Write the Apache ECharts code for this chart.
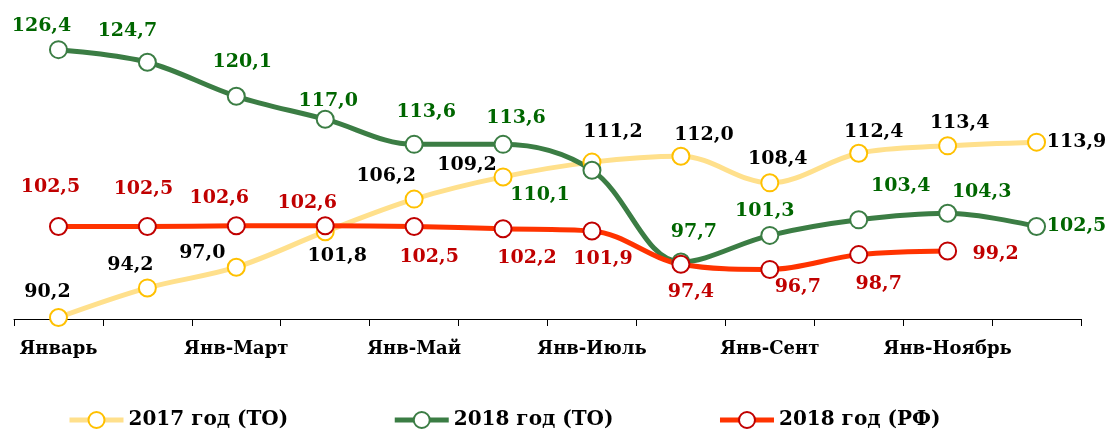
<!DOCTYPE html>
<html>
<head>
<meta charset="utf-8">
<script src="https://cdn.jsdelivr.net/npm/echarts@6/dist/echarts.min.js"></script>
<style>
  html, body { margin: 0; padding: 0; background: #fff; }
  #chart { width: 1113px; height: 432px; }
</style>
</head>
<body>
<div id="chart"></div>
<script>
// категории по оси X
const months = ['Январь', 'Янв-Февр', 'Янв-Март', 'Янв-Апр', 'Янв-Май', 'Янв-Июнь',
  'Янв-Июль', 'Янв-Авг', 'Янв-Сент', 'Янв-Окт', 'Янв-Ноябрь', 'Янв-Декабрь']
// значения рядов
const to2017 = [90.2, 94.2, 97.0, 101.8, 106.2, 109.2, 111.2, 112.0, 108.4, 112.4, 113.4, 113.9]
const to2018 = [126.4, 124.7, 120.1, 117.0, 113.6, 113.6, 110.1, 97.7, 101.3, 103.4, 104.3, 102.5]
const rf2018 = [102.5, 102.5, 102.6, 102.6, 102.5, 102.2, 101.9, 97.4, 96.7, 98.7, 99.2]

// смещения подписей относительно точек
const off2017 = [[-11, -25], [-17, -23], [-34, -14], [12, 24], [-28, -23], [-36, -12],
  [21, -30], [23, -21], [8, -24], [15, -21], [12, -23], [40, 0]]
const offTo2018 = [[-17, -24], [-20, -31], [6, -34], [3, -18], [12, -32], [13, -26],
  [-52, 25], [13, -30], [-5, -24], [42, -34], [34, -21], [40, 0]]
const offRf2018 = [[-8, -39], [-4, -37], [-17, -28], [-18, -23], [15, 31], [24, 29],
  [11, 28], [10, 28], [28, 18], [20, 29], [48, 3]]

const font = '"DejaVu Serif", "Liberation Serif", serif'

function withLabels(values, offsets) {
  return values.map((v, i) => ({ value: v, label: { offset: offsets[i] } }))
}

function makeSeries(name, values, offsets, lineColor, dotColor, textColor) {
  return {
    name: name,
    type: 'line',
    smooth: 0.35,
    data: withLabels(values, offsets),
    symbol: 'circle',
    symbolSize: 17,
    lineStyle: { width: 5, color: lineColor },
    itemStyle: { color: '#fff', borderColor: dotColor, borderWidth: 2 },
    label: {
      show: true,
      position: 'inside',
      color: textColor,
      fontFamily: font,
      fontWeight: 'bold',
      fontSize: 19,
      formatter: p => p.value.toFixed(1).replace('.', ',')
    },
    emphasis: { disabled: true }
  }
}

const myChart = echarts.init(document.getElementById('chart'))
myChart.setOption({
  animation: false,
  grid: { left: 14, right: 32, top: 23, bottom: 113 },
  legend: {
    left: 62,
    top: 405,
    itemWidth: 54,
    itemHeight: 20,
    itemGap: 104,
    lineStyle: { width: 5 },
    textStyle: { fontFamily: font, fontWeight: 'bold', fontSize: 20, color: '#000' },
    data: ['2017 год (ТО)', '2018 год (ТО)', '2018 год (РФ)']
  },
  xAxis: {
    type: 'category',
    data: months,
    boundaryGap: true,
    axisLine: { show: true, lineStyle: { color: '#000', width: 1 } },
    axisTick: { show: true, interval: 0, length: 7, lineStyle: { color: '#000', width: 1 } },
    axisLabel: {
      interval: 1,
      margin: 21,
      color: '#000',
      fontFamily: font,
      fontWeight: 'bold',
      fontSize: 18
    }
  },
  yAxis: {
    type: 'value',
    min: 90,
    max: 130,
    show: false,
    splitLine: { show: false }
  },
  series: [
    makeSeries('2017 год (ТО)', to2017, off2017, '#FFE08C', '#FFC000', '#000'),
    makeSeries('2018 год (ТО)', to2018, offTo2018, '#3B7D44', '#3B7D44', '#006600'),
    makeSeries('2018 год (РФ)', rf2018, offRf2018, '#FF3300', '#C00000', '#C00000')
  ]
})
</script>
</body>
</html>
